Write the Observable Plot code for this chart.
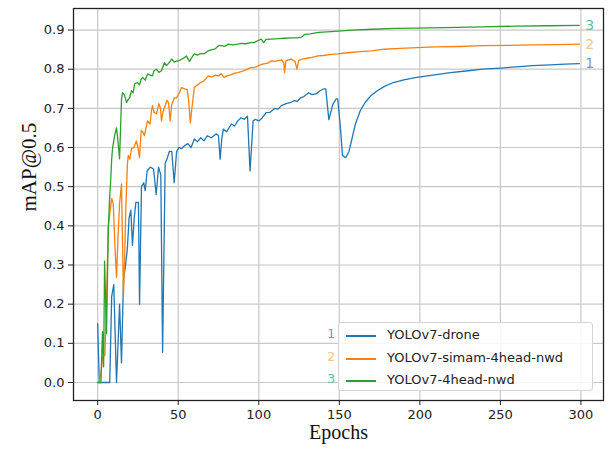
<!DOCTYPE html>
<html>
<head>
<meta charset="utf-8">
<script src="https://cdn.jsdelivr.net/npm/d3@7"></script>
<script src="https://cdn.jsdelivr.net/npm/@observablehq/plot@0.6"></script>
<style>
  body { margin: 0; background: #fff; }
  #wrap { position: relative; width: 610px; height: 451px; }
  #legend { position: absolute; left: 338px; top: 322px; width: 255px; height: 69px;
    border: 1px solid #d4d4d4; border-radius: 3px; background: rgba(255,255,255,0.85);
    font-family: "DejaVu Sans"; font-size: 13px; color: #222; box-sizing: border-box; }
  .row { position: absolute; left: 0; height: 18px; width: 100%; }
  .row .sw { position: absolute; left: 7px; top: 9px; width: 30px; height: 1.5px; }
  .row .tx { position: absolute; left: 48px; top: 0; line-height: 18px; white-space: nowrap; }
  .num { position: absolute; font-family: "DejaVu Sans"; font-size: 13px; line-height: 18px; }
</style>
</head>
<body>
<div id="wrap"></div>
<script>
// ---- data (epoch, mAP@0.5) ----
const droneData = [[0,0.15],[1,0],[4,0],[7.5,0],[8.7,0.22],[10,0.25],[11.7,0],[13.6,0.2],[14.8,0.05],[16,0.26],[17.3,0.3],[18.4,0.34],[19.5,0.42],[20.6,0.44],[21.6,0.35],[22.7,0.42],[23.7,0.46],[25.3,0.46],[26,0.2],[27.2,0.5],[28.6,0.51],[29.5,0.49],[30.7,0.54],[32.6,0.55],[34.7,0.545],[36.3,0.48],[37.8,0.55],[39.2,0.53],[40.3,0.077],[41.9,0.56],[43,0.57],[44.5,0.59],[46,0.59],[47.5,0.51],[49,0.59],[50.5,0.6],[52,0.597],[54,0.605],[56,0.61],[58,0.6],[60,0.622],[62,0.615],[64,0.625],[66,0.617],[68,0.63],[70.5,0.625],[73.6,0.635],[75,0.63],[76,0.57],[77,0.62],[78,0.647],[80,0.64],[83,0.66],[85,0.655],[87,0.668],[89,0.676],[91,0.672],[93,0.68],[94.6,0.54],[96.5,0.668],[98,0.672],[100,0.668],[102,0.675],[104.5,0.689],[107,0.69],[110,0.7],[112,0.698],[114,0.707],[117,0.712],[120,0.715],[122,0.72],[124,0.718],[126,0.727],[128,0.73],[131,0.74],[133,0.735],[135.5,0.737],[138,0.745],[140.5,0.75],[141.6,0.75],[143.5,0.671],[146,0.71],[148,0.724],[149,0.724],[150.5,0.66],[152,0.58],[154,0.574],[156,0.59],[158,0.625],[160,0.66],[163,0.694],[166,0.715],[169.5,0.732],[173.6,0.745],[178,0.756],[183.6,0.766],[190,0.773],[198,0.779],[208,0.785],[219,0.791],[230,0.796],[239,0.8],[250,0.803],[260,0.806],[270,0.809],[281,0.811],[290,0.813],[299,0.814]];
const simamData = [[0,0],[1,0],[2,0.02],[3,0.064],[4.5,0.07],[5.5,0.21],[6.6,0.4],[7.5,0.43],[8.7,0.47],[9.7,0.456],[10.7,0.35],[11.7,0.268],[12.7,0.38],[13.6,0.456],[14.8,0.507],[16,0.218],[16.7,0.31],[17.5,0.45],[18.5,0.56],[19,0.58],[20,0.57],[21,0.597],[22.5,0.6],[24,0.617],[25,0.6],[26,0.574],[27,0.643],[28,0.64],[29,0.63],[30,0.65],[31,0.668],[32.5,0.66],[33.4,0.694],[34,0.707],[35,0.69],[36.5,0.686],[38,0.712],[39,0.7],[39.6,0.668],[40.5,0.69],[41.5,0.702],[43,0.72],[44,0.715],[45,0.668],[46,0.71],[47.6,0.727],[49,0.727],[50.7,0.74],[52,0.753],[54,0.75],[55.6,0.748],[56.5,0.72],[57.5,0.663],[58.5,0.7],[60,0.753],[62,0.76],[64,0.766],[66,0.77],[68.6,0.783],[71,0.78],[73,0.785],[75,0.783],[76.7,0.788],[78.5,0.779],[80,0.783],[82,0.785],[85,0.79],[87,0.791],[90,0.795],[93,0.8],[95,0.804],[97,0.804],[99,0.807],[101.5,0.812],[104,0.814],[106,0.816],[107.6,0.821],[110,0.82],[112,0.822],[114,0.824],[115.5,0.817],[116,0.791],[116.8,0.821],[118,0.823],[120,0.826],[122.5,0.82],[123.7,0.8],[124.7,0.822],[127,0.826],[130,0.828],[133,0.83],[136.7,0.834],[140,0.835],[145,0.838],[149,0.839],[155,0.842],[163,0.845],[170,0.847],[178,0.851],[188,0.853],[198,0.855],[210,0.857],[225,0.858],[239,0.86],[255,0.861],[270,0.862],[285,0.863],[299,0.864]];
const headData = [[0,0],[2,0],[3,0.13],[3.7,0.04],[4.3,0.31],[5,0.2],[5.5,0.125],[6.6,0.39],[7.4,0.47],[8,0.51],[8.7,0.57],[9.3,0.6],[10.5,0.63],[11.7,0.65],[12.4,0.625],[13.6,0.571],[14.8,0.724],[15.5,0.74],[16.5,0.735],[18,0.715],[18.5,0.72],[19.8,0.727],[21,0.745],[22,0.74],[23,0.763],[24.7,0.766],[26,0.76],[27,0.775],[28,0.779],[29.5,0.772],[31,0.788],[32.5,0.785],[34,0.783],[35,0.796],[36.5,0.8],[38,0.792],[39.6,0.796],[41.5,0.817],[42.7,0.809],[44,0.815],[46,0.826],[47.5,0.818],[49,0.821],[50,0.821],[52,0.825],[54,0.83],[55,0.834],[57,0.82],[58.5,0.83],[60,0.839],[62,0.836],[64,0.84],[66,0.839],[68.6,0.847],[71,0.85],[73,0.852],[75,0.86],[76.7,0.86],[79,0.858],[81,0.864],[84,0.862],[87,0.864],[89,0.866],[92,0.865],[95,0.868],[97,0.868],[99,0.872],[101.5,0.877],[103,0.868],[104.5,0.876],[108,0.877],[112,0.878],[116,0.879],[120,0.88],[124,0.88],[126.7,0.882],[128.6,0.889],[132,0.89],[137,0.894],[145,0.896],[158,0.9],[170,0.902],[185,0.904],[198,0.905],[215,0.906],[239,0.908],[260,0.91],[280,0.911],[299,0.912]];

const seriesNames = ["YOLOv7-drone", "YOLOv7-simam-4head-nwd", "YOLOv7-4head-nwd"];
const seriesColors = ["#1f77b4", "#ff7f0e", "#2ca02c"];
const seriesTags = ["1", "2", "3"];
const tagColors = ["#8794c2", "#f2c68a", "#5fbf9f"];
const xTicks = [0, 50, 100, 150, 200, 250, 300];
const yTicks = [0, 0.1, 0.2, 0.3, 0.4, 0.5, 0.6, 0.7, 0.8, 0.9];
const xLabel = "Epochs";
const yLabel = "mAP@0.5";

const allSeries = [droneData, simamData, headData];
const rows = [];
allSeries.forEach((s, i) => s.forEach(([e, v]) => rows.push({epoch: e, map: v, series: seriesNames[i]})));
const ends = allSeries.map((s, i) => ({epoch: s[s.length - 1][0], map: s[s.length - 1][1], tag: seriesTags[i], color: tagColors[i]}));

const chart = Plot.plot({
  width: 610, height: 451,
  marginLeft: 73, marginRight: 7, marginTop: 8, marginBottom: 51,
  style: {fontFamily: "DejaVu Sans", fontSize: "13px", color: "#222", background: "#fff"},
  x: {domain: [-15, 314], ticks: xTicks, tickSize: 5, tickPadding: 4, label: null},
  y: {domain: [-0.046, 0.955], ticks: yTicks, tickFormat: d3.format(".1f"), tickSize: 5, tickPadding: 4, label: null},
  color: {domain: seriesNames, range: seriesColors},
  marks: [
    Plot.gridX(xTicks, {stroke: "#c8c8c8", strokeOpacity: 1, strokeWidth: 1.2}),
    Plot.gridY(yTicks, {stroke: "#c8c8c8", strokeOpacity: 1, strokeWidth: 1.2}),
    Plot.line(rows, {x: "epoch", y: "map", z: "series", stroke: "series", strokeWidth: 1.3}),
    Plot.text(ends, {x: "epoch", y: "map", text: "tag", fill: "color", dx: 6, textAnchor: "start", fontSize: 14}),
    Plot.frame({stroke: "#222", strokeWidth: 1.3}),
    Plot.text([xLabel], {frameAnchor: "bottom", dy: 38, fontSize: 20, fontFamily: "Liberation Serif", fill: "#111"}),
    Plot.text([yLabel], {frameAnchor: "left", dx: -44, dy: 7, rotate: -90, fontSize: 21, fontFamily: "Liberation Serif", fill: "#111"})
  ]
});

const wrap = document.getElementById("wrap");
wrap.appendChild(chart);

// legend overlay (inside the axes, lower right)
const legend = document.createElement("div");
legend.id = "legend";
const rowTops = [3, 26, 48];
seriesNames.forEach((name, i) => {
  const r = document.createElement("div");
  r.className = "row";
  r.style.top = rowTops[i] + "px";
  const sw = document.createElement("div");
  sw.className = "sw";
  sw.style.background = seriesColors[i];
  const tx = document.createElement("div");
  tx.className = "tx";
  tx.textContent = name;
  r.appendChild(sw); r.appendChild(tx);
  legend.appendChild(r);
  const n = document.createElement("div");
  n.className = "num";
  n.textContent = seriesTags[i];
  n.style.color = tagColors[i];
  n.style.left = "327px";
  n.style.top = (322 + rowTops[i]) + "px";
  wrap.appendChild(n);
});
wrap.appendChild(legend);
</script>
</body>
</html>
